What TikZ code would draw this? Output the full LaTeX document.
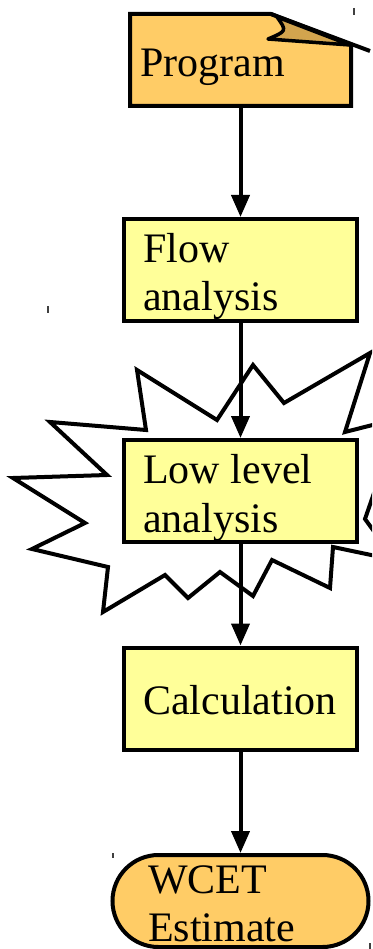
\documentclass[tikz,border=0pt]{standalone}
\usepackage{fontspec}
\setmainfont{Liberation Serif}
\usetikzlibrary{arrows.meta}
\definecolor{docfill}{HTML}{FFCC66}
\definecolor{foldfill}{HTML}{D2A44E}
\definecolor{boxfill}{HTML}{FFFF99}
\tikzset{
  stagebox/.style={draw=black, line width=4pt, fill=boxfill, rectangle,
    inner sep=0pt, minimum width=233pt, minimum height=102pt},
  flowarrow/.style={line width=4pt, -{Triangle[width=18pt,length=22pt]}},
  stagetext/.style={anchor=base west, inner sep=0pt, font=\fontsize{42}{48}\selectfont\rmfamily},
  tick/.style={line width=1.4pt, draw=black!75}
}
\begin{document}
\begin{tikzpicture}[x=1pt,y=-1pt]
\useasboundingbox (0,0) rectangle (372,949);
\clip (0,0) rectangle (372,949);
\fill[white] (0,0) rectangle (372,949);

% anchor frame for the program document
\node[rectangle, inner sep=0pt, outer sep=2pt, minimum width=221pt, minimum height=92pt] (prog) at (240.5,60) {};

% program document with folded corner
\draw[line width=4pt, fill=docfill, line join=miter]
  (130,14) -- (271,14) -- (351,45) -- (351,106) -- (130,106) -- cycle;
\draw[line width=4pt] (271,14) -- (370,51);
\draw[line width=3.5pt, fill=foldfill, line join=round]
  (277,17) .. controls (287,31) .. (268,39) -- (350,45) -- cycle;
\node[stagetext] (progtext) at (140,77) {Program};

% burst behind the low level stage
\draw[line width=4pt, fill=white, line join=miter]
  (253,365) -- (284,403) -- (370,353) -- (345,432) -- (400,418)
  -- (365,519) -- (395,560) -- (333,547) -- (330,588) -- (272,560)
  -- (253,596) -- (220,572) -- (188,598) -- (165,575) -- (103,612)
  -- (108,567) -- (32,549) -- (85,523) -- (13,478) -- (107,475)
  -- (50,422) -- (146,430) -- (137,370) -- (217,420) -- cycle;

% stages
\node[stagebox] (flow) at (240.5,270) {};
\node[stagebox] (low) at (240.5,491) {};
\node[stagebox] (calc) at (240.5,698.5) {};
\node[draw=black, line width=4pt, fill=docfill, rounded corners=46pt,
  inner sep=0pt, minimum width=256pt, minimum height=92pt] (wcet) at (240.5,901) {};

% connectors
\draw[flowarrow] (prog.south) -- (flow.north);
\draw[flowarrow] (flow.south) -- (low.north);
\draw[flowarrow] (low.south) -- (calc.north);
\draw[flowarrow] (calc.south) -- (wcet.north);

% labels
\node[stagetext] (flowt1) at (143,262) {Flow};
\node[stagetext] (flowt2) at (143,310) {analysis};
\node[stagetext] (lowt1) at (143,483) {Low level};
\node[stagetext] (lowt2) at (143,532) {analysis};
\node[stagetext] (calct) at (143,714) {Calculation};
\node[stagetext] (wcett1) at (148,893) {WCET};
\node[stagetext] (wcett2) at (148,941) {Estimate};

% small stray marks
\draw[tick] (48,306) -- (48,313);
\draw[tick] (354,8) -- (354,15);
\draw[tick] (113,853) -- (113,858);
\draw[tick] (370,943) -- (370,949);
\end{tikzpicture}
\end{document}
